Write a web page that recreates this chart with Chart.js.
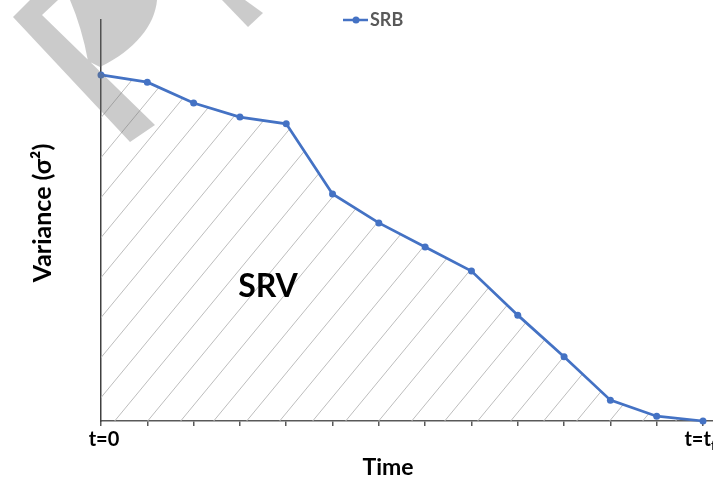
<!DOCTYPE html>
<html>
<head>
<meta charset="utf-8">
<script src="https://cdn.jsdelivr.net/npm/chart.js@4.4.0/dist/chart.umd.min.js"></script>
<style>
    html, body { margin: 0; padding: 0; background: #fff; }
    #srvChart { display: block; }
</style>
</head>
<body>
<canvas id="srvChart" width="713" height="481"></canvas>
<script>
// time steps and variance (0 = x axis, 100 = top of y axis)
const steps = [0, 1, 2, 3, 4, 5, 6, 7, 8, 9, 10, 11, 12, 13];
const variance = [86.3, 84.5, 79.3, 75.8, 74.1, 56.6, 49.4, 43.4, 37.4, 26.4, 16.0, 5.2, 1.2, 0];

// only the two ends of the time axis are labelled
const tickAt = [0, 13];
const tickText = ['t=0', 't=t'];
const tickSub = ['', 'f'];

const seriesName = 'SRB';
const areaName = 'SRV';
const xTitle = 'Time';
const yTitle = 'Variance (σ²)';

const FONT = 'Lato, "Open Sans", sans-serif';
const BLUE = '#4472C4';

function makeHatch() {
    const c = document.createElement('canvas');
    c.width = 33;
    c.height = 40;
    const g = c.getContext('2d');
    g.strokeStyle = '#bdbdbd';
    g.lineWidth = 1;
    for (let k = -1; k <= 1; k++) {
        g.beginPath();
        g.moveTo(-33 + k * 33, 80);
        g.lineTo(66 + k * 33, -40);
        g.stroke();
    }
    return c.getContext('2d').createPattern(c, 'repeat');
}

const textPlugin = {
    id: 'textPlugin',
    afterDraw(chart) {
        const ctx = chart.ctx;
        const xs = chart.scales.x;
        ctx.save();

        // tick labels at the ends of the time axis
        const nudge = [3, -3];
        ctx.fillStyle = '#000';
        ctx.textBaseline = 'middle';
        ctx.textAlign = 'left';
        tickAt.forEach(function (v, i) {
            const px = xs.getPixelForValue(v);
            ctx.font = 'bold 20px ' + FONT;
            const w = ctx.measureText(tickText[i]).width;
            ctx.font = 'bold 13px ' + FONT;
            const ws = tickSub[i] ? ctx.measureText(tickSub[i]).width : 0;
            const x0 = px + nudge[i] - (w + ws) / 2;
            ctx.font = 'bold 20px ' + FONT;
            ctx.fillText(tickText[i], x0, 440);
            if (tickSub[i]) {
                ctx.font = 'bold 13px ' + FONT;
                ctx.fillText(tickSub[i], x0 + w, 446);
            }
        });

        // axis titles
        ctx.textAlign = 'center';
        ctx.font = 'bold 23px ' + FONT;
        ctx.fillText(xTitle, 388, 468);
        ctx.save();
        ctx.translate(43, 213);
        ctx.rotate(-Math.PI / 2);
        ctx.font = 'bold 25px ' + FONT;
        ctx.fillText(yTitle, 0, 0);
        ctx.restore();

        // area label
        ctx.font = 'bold 32px ' + FONT;
        ctx.fillText(areaName, 268, 287);

        // legend
        ctx.strokeStyle = BLUE;
        ctx.lineWidth = 2.5;
        ctx.beginPath();
        ctx.moveTo(343, 20);
        ctx.lineTo(368, 20);
        ctx.stroke();
        ctx.fillStyle = BLUE;
        ctx.beginPath();
        ctx.arc(356, 20, 3.5, 0, Math.PI * 2);
        ctx.fill();
        ctx.fillStyle = '#595959';
        ctx.font = 'bold 18px ' + FONT;
        ctx.textAlign = 'left';
        ctx.fillText(seriesName, 370, 20);

        // grey watermark strokes over the top left corner
        ctx.fillStyle = 'rgba(110,110,110,0.36)';
        ctx.beginPath();
        ctx.moveTo(30, 0);
        ctx.lineTo(13, 17);
        ctx.lineTo(130, 142);
        ctx.lineTo(155, 125);
        ctx.lineTo(42, 15);
        ctx.lineTo(58, 0);
        ctx.closePath();
        ctx.moveTo(70, 0);
        ctx.quadraticCurveTo(82, 28, 88, 61);
        ctx.lineTo(100, 67);
        ctx.bezierCurveTo(135, 50, 155, 25, 157, 0);
        ctx.closePath();
        ctx.fill('nonzero');
        ctx.beginPath();
        ctx.moveTo(222, 0);
        ctx.lineTo(248, 27);
        ctx.lineTo(263, 13);
        ctx.lineTo(245, 0);
        ctx.closePath();
        ctx.fill();

        ctx.restore();
    }
};

document.addEventListener('DOMContentLoaded', function () {
    const ctx = document.getElementById('srvChart').getContext('2d');

    const data = {
        datasets: [{
            label: seriesName,
            data: steps.map(function (t, i) { return { x: t, y: variance[i] }; }),
            borderColor: BLUE,
            borderWidth: 2.75,
            pointRadius: 3.5,
            pointBackgroundColor: BLUE,
            pointBorderColor: BLUE,
            pointBorderWidth: 0,
            backgroundColor: makeHatch(),
            fill: 'origin',
            tension: 0,
            clip: false
        }]
    };

    const config = {
        type: 'line',
        data: data,
        options: {
            responsive: false,
            animation: false,
            devicePixelRatio: 1,
            layout: {
                autoPadding: false,
                padding: { top: 20, right: 0, bottom: 0, left: 0 }
            },
            plugins: {
                legend: { display: false },
                tooltip: { enabled: false }
            },
            scales: {
                x: {
                    type: 'linear',
                    min: 0,
                    max: 13.216,
                    ticks: {
                        display: false,
                        stepSize: 1,
                        includeBounds: false
                    },
                    grid: {
                        drawOnChartArea: false,
                        drawTicks: true,
                        tickLength: 5,
                        color: '#595959',
                        lineWidth: 1.5
                    },
                    border: { color: '#595959', width: 1.5 },
                    afterFit: function (scale) {
                        scale.height = 60;
                        scale.paddingLeft = 0;
                        scale.paddingRight = 0;
                    }
                },
                y: {
                    min: 0,
                    max: 100,
                    ticks: { display: false },
                    grid: { display: false },
                    border: { color: '#404040', width: 1.5 },
                    afterFit: function (scale) {
                        scale.width = 101;
                    }
                }
            }
        },
        plugins: [textPlugin]
    };

    new Chart(ctx, config);
});
</script>
</body>
</html>
